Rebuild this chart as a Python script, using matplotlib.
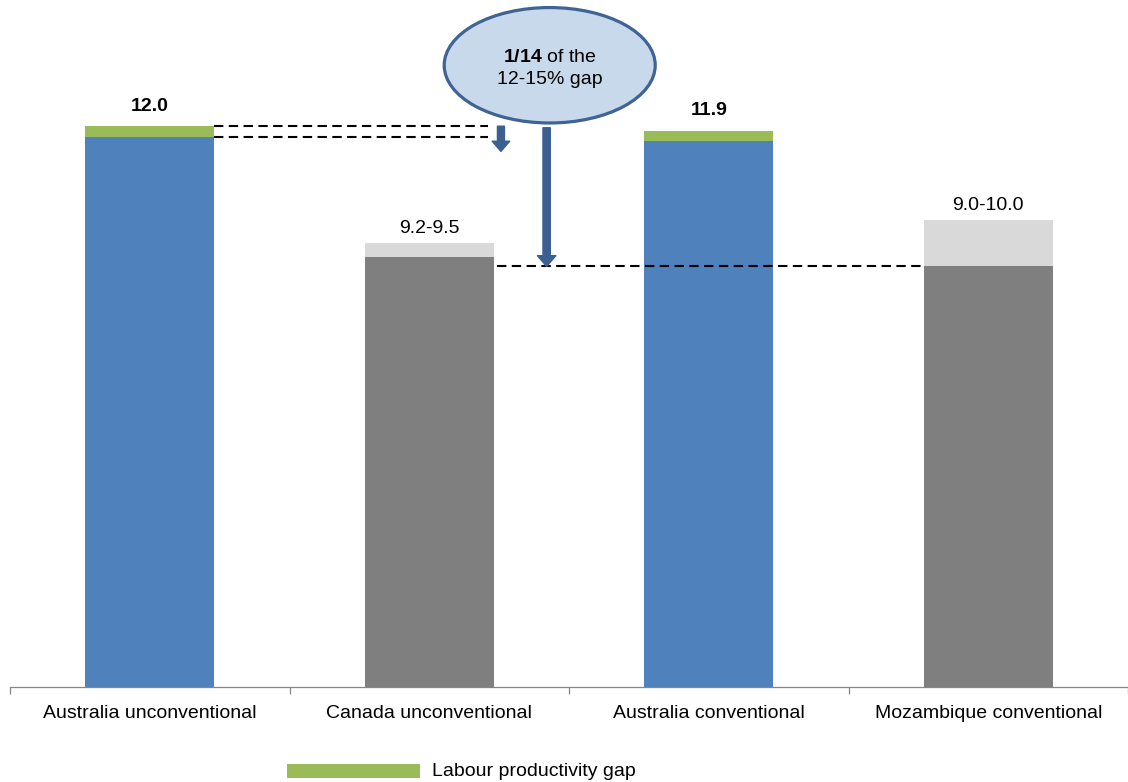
import matplotlib
matplotlib.use("Agg")
import matplotlib.pyplot as plt
from matplotlib.patches import Ellipse, Rectangle
from matplotlib.transforms import blended_transform_factory

plt.rcParams['font.family'] = ['Liberation Sans', 'DejaVu Sans']
plt.rcParams['mathtext.fontset'] = 'custom'
plt.rcParams['mathtext.rm'] = 'Liberation Sans'
plt.rcParams['mathtext.bf'] = 'Liberation Sans:bold'

# LNG project cost, $/MMBtu
categories = ['Australia unconventional', 'Canada unconventional',
              'Australia conventional', 'Mozambique conventional']
cost_low = [12.0, 9.2, 11.9, 9.0]
cost_high = [12.0, 9.5, 11.9, 10.0]
labour_gap = [0.24, 0.0, 0.22, 0.0]
is_australia = [True, False, True, False]
value_labels = ['12.0', '9.2-9.5', '11.9', '9.0-10.0']
legend_label = 'Labour productivity gap'
callout_bold = '1/14'
callout_rest = ' of the'
callout_line2 = '12-15% gap'

BLUE = '#4f81bd'
GREEN = '#9bbb59'
DARK = '#7f7f7f'
LIGHT = '#d9d9d9'
NAVY = '#3b5f8f'
EDGE = '#3e6394'
AXIS = '#868686'

W, H = 1128, 782
fig = plt.figure(figsize=(W / 100, H / 100), dpi=100)
ax = fig.add_axes([10 / W, 1 - 687 / H, 1 - 10 / W, 687 / H])
ax.set_xlim(-0.5, 3.483)
ax.set_ylim(0, 14.7)

bar_w = 0.463
x = list(range(len(categories)))

for i in x:
    if is_australia[i]:
        base = cost_high[i] - labour_gap[i]
        ax.bar(i, base, width=bar_w, color=BLUE, linewidth=0)
        ax.bar(i, labour_gap[i], bottom=base, width=bar_w, color=GREEN, linewidth=0)
        ax.annotate(value_labels[i], xy=(i, cost_high[i]), xytext=(0, 14.5),
                    textcoords='offset points', ha='center', va='center',
                    fontsize=14, fontweight='bold')
    else:
        ax.bar(i, cost_low[i], width=bar_w, color=DARK, linewidth=0)
        ax.bar(i, cost_high[i] - cost_low[i], bottom=cost_low[i], width=bar_w,
               color=LIGHT, linewidth=0)
        ax.annotate(value_labels[i], xy=(i, cost_high[i]), xytext=(0, 10.5),
                    textcoords='offset points', ha='center', va='center',
                    fontsize=14)

# dashed guides: Australian labour gap band and the competitor benchmark
dash_kw = dict(color='black', lw=1.5, dashes=(4.5, 2.6), zorder=3)
au_top = cost_high[0]
au_base = cost_high[0] - labour_gap[0]
ax.plot([0 + bar_w / 2, 1 + bar_w / 2 - 0.02], [au_top, au_top], **dash_kw)
ax.plot([0 + bar_w / 2, 1 + bar_w / 2 - 0.02], [au_base, au_base], **dash_kw)
bench = cost_low[3]
ax.plot([1 + bar_w / 2 + 0.01, 3 - bar_w / 2], [bench, bench], **dash_kw)

arrow_style = 'simple,head_length=0.7,head_width=1.2,tail_width=0.48'
small_x = 1 + bar_w / 2 + 0.025
ax.annotate('', xy=(small_x, au_base - 0.3), xytext=(small_x, au_top),
            arrowprops=dict(arrowstyle=arrow_style, mutation_scale=10.5,
                            color=NAVY, shrinkA=0, shrinkB=0))

# callout bubble
bt = blended_transform_factory(ax.transData, ax.transAxes)
cx, cy = 1.431, 0.905
ew, eh = 0.755, 0.168
ax.add_patch(Ellipse((cx, cy), ew, eh, transform=bt, facecolor='#c9d9ec',
                     edgecolor=EDGE, lw=2.3, zorder=5, clip_on=False))
ax.text(cx, 0.917, rf'$\mathbf{{{callout_bold}}}${callout_rest}', transform=bt,
        ha='center', va='center', fontsize=14, zorder=6)
ax.text(cx, 0.885, callout_line2, transform=bt, ha='center', va='center',
        fontsize=14, zorder=6)

long_x = 1.42
ax.annotate('', xy=(long_x, bench), xycoords='data',
            xytext=(long_x, cy - eh / 2 - 0.007), textcoords=('data', 'axes fraction'),
            arrowprops=dict(arrowstyle=arrow_style, mutation_scale=11,
                            color=NAVY, shrinkA=0, shrinkB=0))

# axis styling
for s in ['left', 'right', 'top']:
    ax.spines[s].set_visible(False)
ax.spines['bottom'].set_color(AXIS)
ax.spines['bottom'].set_linewidth(0.9)
ax.set_yticks([])
ax.set_xticks([-0.5, 0.5, 1.5, 2.5, 3.5])
ax.set_xticklabels([])
ax.set_xticks(x, minor=True)
ax.set_xticklabels(categories, minor=True, fontsize=14)
ax.tick_params(axis='x', which='major', length=5, width=0.9, color=AXIS, direction='out')
ax.tick_params(axis='x', which='minor', length=0, pad=13)

# legend
fig.patches.append(Rectangle((287 / W, 1 - 778 / H), 133 / W, 14 / H,
                             transform=fig.transFigure, facecolor=GREEN,
                             edgecolor='none'))
fig.text(432 / W, 1 - 771 / H, legend_label, ha='left', va='center', fontsize=14)

fig.savefig('out.png', dpi=100)
